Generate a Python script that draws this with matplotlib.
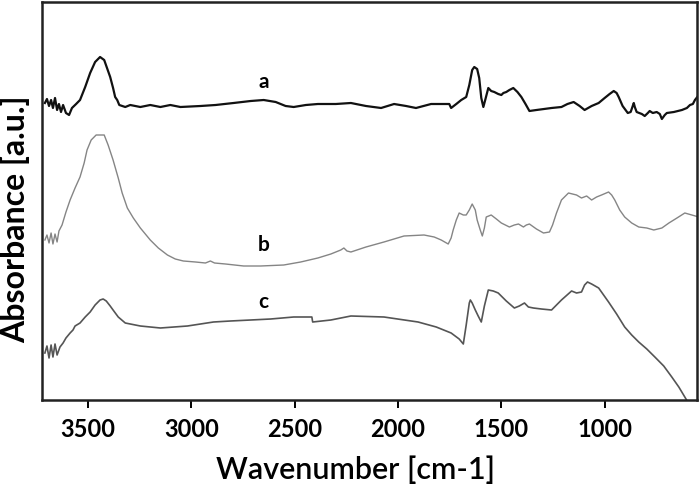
import matplotlib
matplotlib.use('Agg')
import matplotlib.pyplot as plt

plt.rcParams['font.family'] = ['Lato', 'DejaVu Sans']

# spectrum a (black, top)
wn_a = [3709, 3699, 3689, 3679, 3670, 3660, 3650, 3641, 3631, 3621, 3607, 3592, 3578, 3558,
        3539, 3514, 3490, 3466, 3442, 3422, 3393, 3379, 3369, 3359, 3349, 3320, 3296, 3247,
        3199, 3150, 3102, 3053, 2956, 2883, 2796, 2713, 2650, 2592, 2544, 2505, 2446, 2388,
        2301, 2228, 2155, 2082, 2019, 1961, 1913, 1840, 1752, 1743, 1718, 1694, 1670, 1655,
        1641, 1631, 1617, 1607, 1597, 1587, 1578, 1563, 1549, 1534, 1515, 1500, 1490, 1476,
        1461, 1442, 1422, 1403, 1383, 1364, 1330, 1257, 1209, 1180, 1150, 1121, 1097, 1063,
        1029, 1000, 976, 956, 942, 932, 913, 888, 874, 864, 859, 854, 845, 820, 806, 791,
        782, 767, 748, 733, 723, 709, 699, 665, 626, 602, 587, 573, 563, 544]
abs_a = [2.97, 3.01, 2.94, 3.00, 2.92, 3.02, 2.90, 2.96, 2.88, 2.95, 2.87, 2.85, 2.92, 2.96,
         3.00, 3.13, 3.27, 3.38, 3.43, 3.40, 3.23, 3.12, 3.03, 3.00, 2.95, 2.93, 2.95, 2.93,
         2.95, 2.93, 2.95, 2.93, 2.94, 2.95, 2.97, 2.99, 3.00, 2.98, 2.94, 2.93, 2.95, 2.96,
         2.96, 2.97, 2.94, 2.92, 2.96, 2.94, 2.92, 2.96, 2.96, 2.92, 2.96, 3.00, 3.03, 3.15,
         3.30, 3.33, 3.31, 3.22, 3.02, 2.93, 3.00, 3.12, 3.09, 3.08, 3.06, 3.05, 3.07, 3.08,
         3.10, 3.12, 3.08, 3.03, 2.96, 2.89, 2.90, 2.92, 2.93, 2.96, 2.98, 2.94, 2.90, 2.94,
         2.97, 3.02, 3.06, 3.09, 3.07, 3.03, 2.94, 2.87, 2.88, 2.94, 2.97, 2.93, 2.88, 2.86,
         2.84, 2.87, 2.89, 2.87, 2.88, 2.86, 2.81, 2.85, 2.87, 2.88, 2.90, 2.92, 2.95, 2.96,
         3.00, 3.05]

# spectrum b (light grey, middle)
wn_b = [3709, 3699, 3689, 3679, 3670, 3660, 3650, 3641, 3626, 3607, 3587, 3563, 3539, 3519,
        3505, 3485, 3461, 3422, 3403, 3379, 3354, 3335, 3310, 3281, 3247, 3199, 3160, 3116,
        3078, 3039, 2980, 2932, 2908, 2888, 2835, 2747, 2665, 2553, 2471, 2388, 2325, 2277,
        2262, 2247, 2228, 2155, 2068, 1971, 1874, 1825, 1791, 1757, 1743, 1733, 1718, 1704,
        1684, 1670, 1655, 1641, 1626, 1617, 1602, 1592, 1582, 1573, 1549, 1524, 1500, 1461,
        1437, 1417, 1393, 1379, 1364, 1330, 1296, 1267, 1252, 1233, 1209, 1175, 1136, 1112,
        1087, 1063, 1039, 1015, 981, 966, 951, 927, 903, 869, 835, 796, 762, 723, 689, 650,
        612, 578, 544]
abs_b = [1.60, 1.65, 1.57, 1.67, 1.56, 1.66, 1.58, 1.69, 1.75, 1.88, 2.00, 2.12, 2.23, 2.37,
         2.50, 2.60, 2.65, 2.65, 2.55, 2.40, 2.22, 2.07, 1.92, 1.82, 1.72, 1.60, 1.52, 1.45,
         1.41, 1.39, 1.38, 1.37, 1.39, 1.37, 1.36, 1.34, 1.34, 1.35, 1.38, 1.42, 1.46, 1.50,
         1.52, 1.49, 1.48, 1.53, 1.58, 1.64, 1.65, 1.63, 1.60, 1.56, 1.62, 1.70, 1.80, 1.87,
         1.85, 1.85, 1.90, 1.96, 1.90, 1.80, 1.70, 1.64, 1.72, 1.83, 1.85, 1.81, 1.77, 1.73,
         1.75, 1.76, 1.73, 1.75, 1.76, 1.71, 1.67, 1.68, 1.75, 1.87, 2.00, 2.07, 2.05, 2.02,
         2.04, 2.00, 2.03, 2.05, 2.08, 2.05, 2.00, 1.90, 1.83, 1.77, 1.73, 1.72, 1.70, 1.72,
         1.77, 1.82, 1.87, 1.85, 1.83]

# spectrum c (dark grey, bottom)
wn_c = [3709, 3699, 3689, 3679, 3670, 3660, 3650, 3636, 3621, 3607, 3587, 3573, 3563, 3539,
        3514, 3490, 3466, 3442, 3427, 3412, 3393, 3379, 3354, 3320, 3247, 3150, 3019, 2893,
        2811, 2713, 2616, 2505, 2417, 2413, 2325, 2228, 2068, 1903, 1815, 1743, 1704, 1684,
        1670, 1655, 1650, 1641, 1626, 1612, 1597, 1582, 1563, 1539, 1515, 1476, 1437, 1413,
        1388, 1369, 1345, 1306, 1257, 1209, 1160, 1136, 1112, 1097, 1083, 1063, 1029, 1005,
        981, 942, 903, 869, 835, 796, 757, 714, 675, 641, 612, 592]
abs_c = [0.47, 0.54, 0.42, 0.55, 0.43, 0.56, 0.45, 0.53, 0.57, 0.62, 0.67, 0.70, 0.74, 0.77,
         0.83, 0.88, 0.95, 1.00, 1.01, 0.99, 0.94, 0.90, 0.83, 0.77, 0.74, 0.72, 0.74, 0.78,
         0.79, 0.80, 0.81, 0.83, 0.83, 0.78, 0.80, 0.84, 0.83, 0.78, 0.73, 0.67, 0.61, 0.56,
         0.75, 0.97, 1.00, 0.97, 0.90, 0.84, 0.78, 0.94, 1.10, 1.09, 1.07, 0.99, 0.92, 0.94,
         0.97, 0.93, 0.92, 0.91, 0.90, 1.00, 1.09, 1.07, 1.08, 1.15, 1.18, 1.16, 1.12, 1.05,
         0.98, 0.86, 0.73, 0.65, 0.58, 0.51, 0.43, 0.34, 0.23, 0.13, 0.03, -0.04]

curve_labels = ['a', 'b', 'c']
label_wn = [2650, 2650, 2650]
label_abs = [3.18, 1.55, 0.98]

xticks = [3500, 3000, 2500, 2000, 1500, 1000]

fig = plt.figure(figsize=(6.99, 4.88), dpi=100)
ax = fig.add_axes([42 / 699, 88 / 488, 655 / 699, 398 / 488])

ax.plot(wn_a, abs_a, color='#111111', lw=1.6)
ax.plot(wn_b, abs_b, color='#858585', lw=1.0)
ax.plot(wn_c, abs_c, color='#555555', lw=1.2)

for lab, x, y in zip(curve_labels, label_wn, label_abs):
    ax.text(x, y, lab, fontsize=15, fontweight='bold', ha='center', va='center')

ax.set_xlim(3723, 553)
ax.set_ylim(0, 3.98)
ax.set_xticks(xticks)
ax.set_yticks([])
ax.tick_params(axis='x', direction='out', length=6, width=1.4, pad=7,
               labelsize=17)
for t in ax.get_xticklabels():
    t.set_fontweight('bold')

for side in ['left', 'right', 'top', 'bottom']:
    ax.spines[side].set_linewidth(1.8)
    ax.spines[side].set_color('#222222')

ax.set_xlabel('Wavenumber [cm-1]', fontsize=22, fontweight='semibold')
ax.xaxis.set_label_coords(0.478, -0.14)
ax.set_ylabel('Absorbance [a.u.]', fontsize=23, fontweight='bold')
ax.yaxis.set_label_coords(-0.018, 0.455)

fig.savefig('out.png', dpi=100)
